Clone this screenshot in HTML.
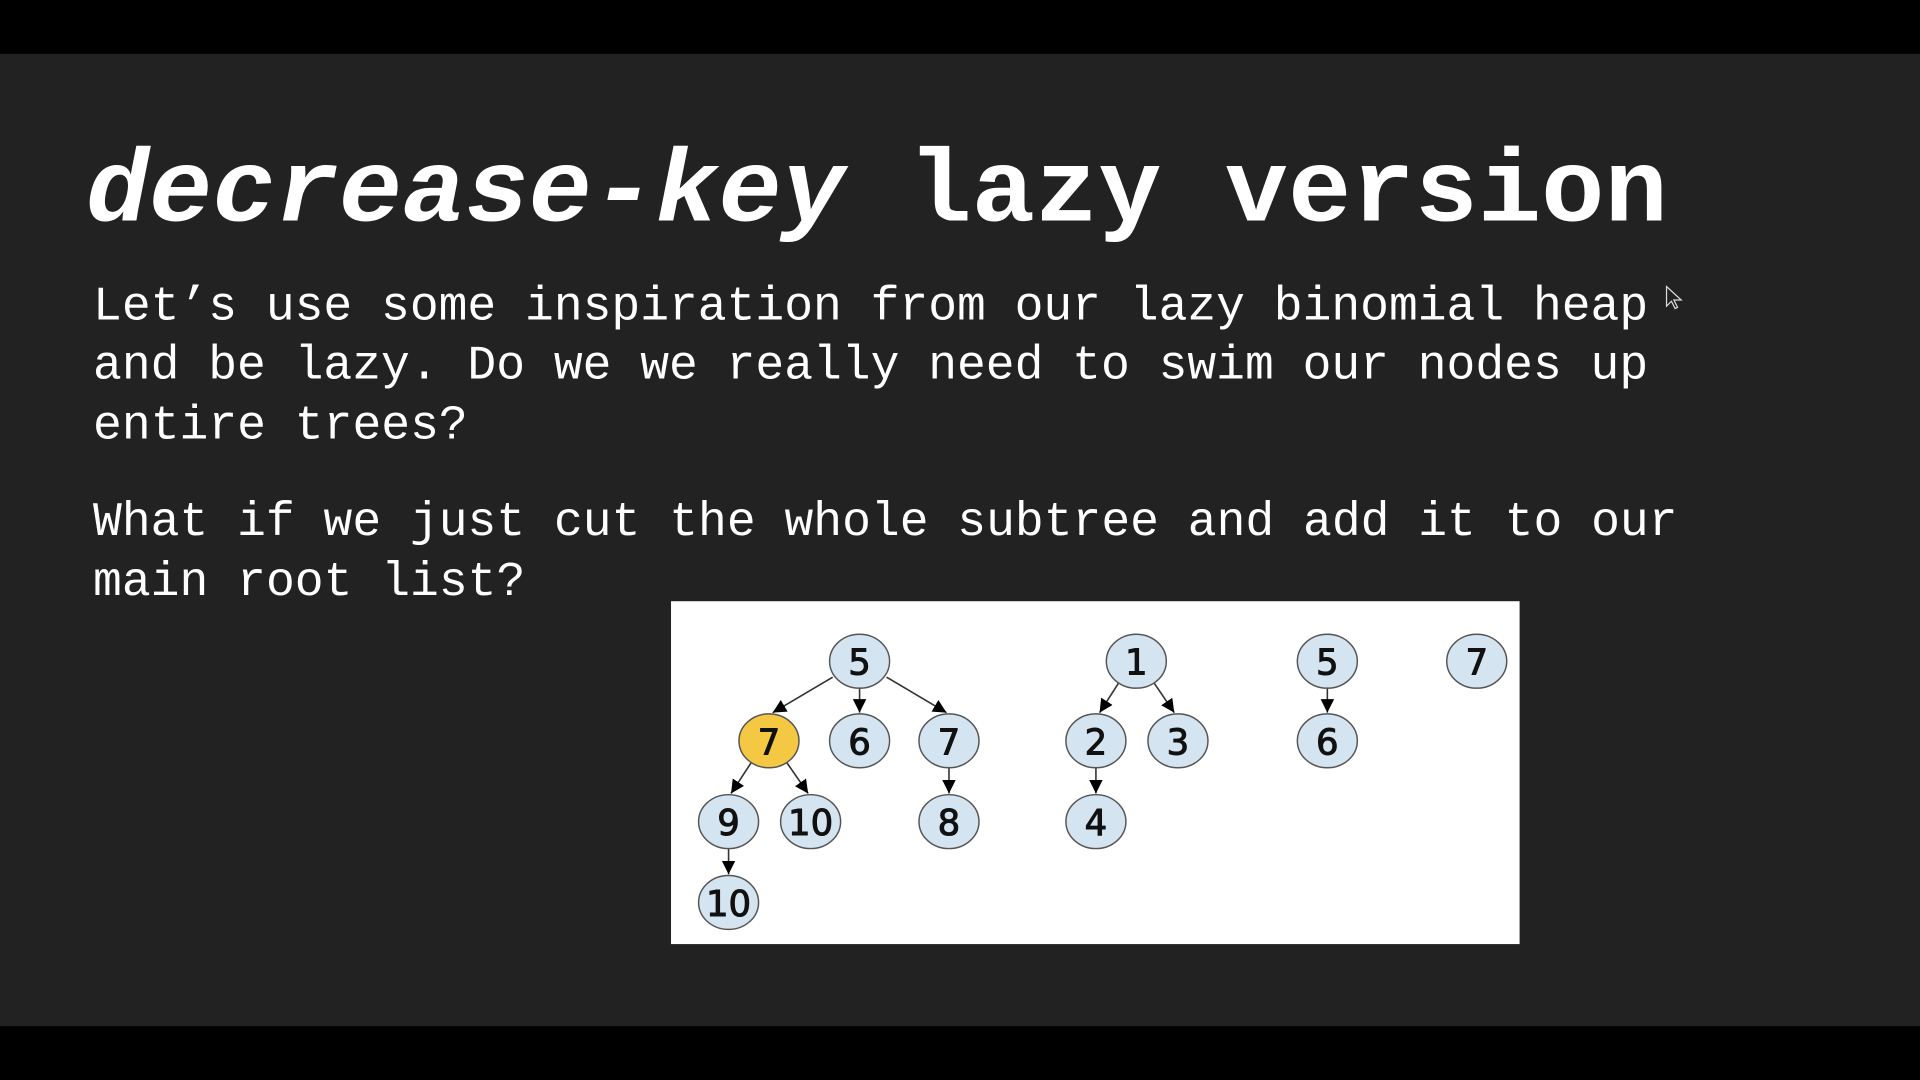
<!DOCTYPE html>
<html><head><meta charset="utf-8"><style>
html,body{margin:0;padding:0;background:#000;}
svg{display:block;}
</style></head><body>
<svg width="1920" height="1080" viewBox="0 0 1568 882" xmlns="http://www.w3.org/2000/svg">
<defs><marker id="a" markerWidth="11" markerHeight="11" refX="10" refY="5" orient="auto" markerUnits="userSpaceOnUse" viewBox="0 0 10 10"><path d="M0,0 L10,5 L0,10 z" fill="#000"/></marker></defs>
<rect x="0" y="0" width="1568" height="882" fill="#000"/>
<rect x="0" y="44" width="1568" height="794" fill="#222222"/>
<text x="70" y="180" font-family="Liberation Mono, monospace" font-weight="bold" font-size="84" fill="#fff" textLength="1292" lengthAdjust="spacingAndGlyphs"><tspan font-style="italic">decrease-key</tspan> lazy version</text>
<g font-family="Liberation Mono, monospace" font-size="39" fill="#fff">
<text x="76" y="261" textLength="1270" lengthAdjust="spacingAndGlyphs">Let’s use some inspiration from our lazy binomial heap</text>
<text x="76" y="309" textLength="1270" lengthAdjust="spacingAndGlyphs">and be lazy. Do we we really need to swim our nodes up</text>
<text x="76" y="358" textLength="306" lengthAdjust="spacingAndGlyphs">entire trees?</text>
<text x="76" y="437" textLength="1294" lengthAdjust="spacingAndGlyphs">What if we just cut the whole subtree and add it to our</text>
<text x="76" y="486" textLength="353" lengthAdjust="spacingAndGlyphs">main root list?</text>
</g>
<rect x="548" y="491" width="693" height="280" fill="#fff"/>
<g stroke="#333" stroke-width="1.3" marker-end="url(#a)">
<line x1="680" y1="553" x2="631" y2="582"/>
<line x1="702" y1="562" x2="702" y2="582"/>
<line x1="724" y1="553" x2="773" y2="582"/>
<line x1="614" y1="622" x2="597" y2="648"/>
<line x1="642" y1="622" x2="660" y2="648"/>
<line x1="775" y1="627" x2="775" y2="648"/>
<line x1="595" y1="693" x2="595" y2="714"/>
<line x1="914" y1="557" x2="898" y2="582"/>
<line x1="942" y1="557" x2="959" y2="582"/>
<line x1="895" y1="627" x2="895" y2="648"/>
<line x1="1084" y1="562" x2="1084" y2="582"/>
</g>
<g stroke="#555" stroke-width="1.2" fill="#d4e4f0">
<ellipse cx="702" cy="540" rx="24.5" ry="22"/>
<ellipse cx="628" cy="605" rx="24.5" ry="22" fill="#f4c842"/>
<ellipse cx="702" cy="605" rx="24.5" ry="22"/>
<ellipse cx="775" cy="605" rx="24.5" ry="22"/>
<ellipse cx="595" cy="671" rx="24.5" ry="22"/>
<ellipse cx="662" cy="671" rx="24.5" ry="22"/>
<ellipse cx="775" cy="671" rx="24.5" ry="22"/>
<ellipse cx="595" cy="737" rx="24.5" ry="22"/>
<ellipse cx="928" cy="540" rx="24.5" ry="22"/>
<ellipse cx="895" cy="605" rx="24.5" ry="22"/>
<ellipse cx="962" cy="605" rx="24.5" ry="22"/>
<ellipse cx="895" cy="671" rx="24.5" ry="22"/>
<ellipse cx="1084" cy="540" rx="24.5" ry="22"/>
<ellipse cx="1084" cy="605" rx="24.5" ry="22"/>
<ellipse cx="1206" cy="540" rx="24.5" ry="22"/>
</g>
<g font-family="DejaVu Sans, Liberation Sans, sans-serif" font-size="29" fill="#111" stroke="#111" stroke-width="0.8" text-anchor="middle">
<text x="702" y="551">5</text>
<text x="628" y="616">7</text>
<text x="702" y="616">6</text>
<text x="775" y="616">7</text>
<text x="595" y="682">9</text>
<text x="662" y="682">10</text>
<text x="775" y="682">8</text>
<text x="595" y="748">10</text>
<text x="928" y="551">1</text>
<text x="895" y="616">2</text>
<text x="962" y="616">3</text>
<text x="895" y="682">4</text>
<text x="1084" y="551">5</text>
<text x="1084" y="616">6</text>
<text x="1206" y="551">7</text>
</g>
<path d="M1361,234 L1361,250 L1365,246 L1368,252 L1370,251 L1367,245 L1373,245 Z" fill="#222" stroke="#ddd" stroke-width="1"/>
</svg>
</body></html>
